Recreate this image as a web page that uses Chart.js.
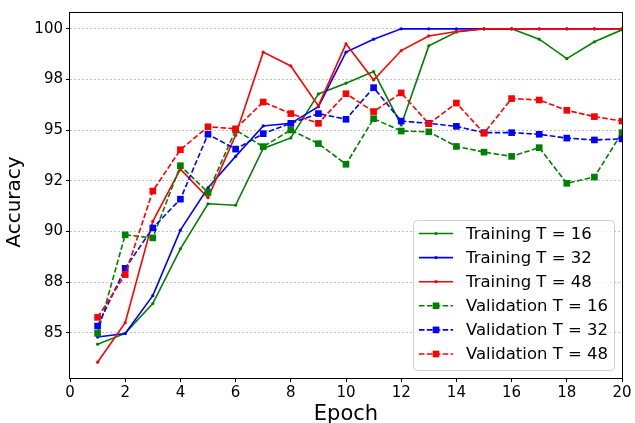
<!DOCTYPE html>
<html><head><meta charset="utf-8">
<script src="https://cdn.jsdelivr.net/npm/chart.js@4"></script>
<style>html,body{margin:0;padding:0;background:#fff}#wrap{width:635px;height:423px}</style>
</head><body><div id="wrap"><canvas id="c" width="635" height="423"></canvas></div>
<script>
const epochs = [1,2,3,4,5,6,7,8,9,10,11,12,13,14,15,16,17,18,19,20];
const trainT16 = [84.45,84.98,86.45,89.15,91.37,91.30,94.10,94.62,96.79,97.32,97.89,95.26,99.16,99.84,100,100,99.49,98.53,99.36,99.95];
const trainT32 = [84.80,84.97,86.84,90.07,92.16,93.71,95.21,95.34,96.16,98.85,99.49,100,100,100,100,100,100,100,100,100];
const trainT48 = [83.56,85.51,90.51,93.08,91.67,94.75,98.85,98.17,96.20,99.26,97.48,98.93,99.65,99.87,100,100,100,100,100,100];
const valT16 = [84.98,89.84,89.69,93.25,91.93,95.01,94.19,95.01,94.34,93.32,95.57,94.96,94.92,94.20,93.92,93.71,94.14,92.38,92.69,94.88];
const valT32 = [85.34,88.19,90.18,91.60,94.80,94.07,94.83,95.34,95.82,95.54,97.10,95.45,95.34,95.19,94.88,94.88,94.80,94.61,94.52,94.57];
const valT48 = [85.77,87.88,92.00,94.04,95.17,95.07,96.39,95.82,95.34,96.80,95.92,96.84,95.32,96.34,94.85,96.56,96.49,95.98,95.67,95.45];
const seriesLabels = ['Training T = 16','Training T = 32','Training T = 48','Validation T = 16','Validation T = 32','Validation T = 48'];
const xTicks = [0,2,4,6,8,10,12,14,16,18,20];
const yTickValues = [85,87.5,90,92.5,95,97.5,100];
const yTickLabels = ['85','88','90','92','95','98','100'];
const xTitle = 'Epoch';
const yTitle = 'Accuracy';

Chart.defaults.font.family = '"DejaVu Sans", sans-serif';
Chart.defaults.color = '#000';

const seriesValues = [trainT16, trainT32, trainT48, valT16, valT32, valT48];
const colors = ['#008000','#0000ff','#ff0000','#008000','#0000ff','#ff0000'];
const datasets = seriesValues.map((vals, i) => {
  const val = i >= 3;
  return {
    label: seriesLabels[i],
    data: epochs.map((e, k) => ({x: e, y: vals[k]})),
    borderColor: colors[i],
    backgroundColor: colors[i],
    borderWidth: 1.6,
    borderDash: val ? [5.5, 2.4] : [],
    pointStyle: val ? 'rect' : 'circle',
    pointRadius: val ? 4.7 : 1.6,
    pointBorderWidth: 0,
    pointHoverRadius: val ? 4.7 : 1.6,
    fill: false,
    tension: 0,
    order: 6 - i
  };
});

function drawMarker(ctx, ds, x, y) {
  ctx.fillStyle = ds.backgroundColor;
  ctx.beginPath();
  if (ds.pointStyle === 'rect') {
    const s = Math.SQRT1_2 * ds.pointRadius;
    ctx.rect(x - s, y - s, 2 * s, 2 * s);
  } else {
    ctx.arc(x, y, ds.pointRadius, 0, Math.PI * 2);
  }
  ctx.fill();
}

const framePlugin = {
  id: 'frameAndLegend',
  afterDraw(chart) {
    const ctx = chart.ctx, ca = chart.chartArea;
    ctx.save();
    ctx.strokeStyle = '#000';
    ctx.lineWidth = 1;
    ctx.strokeRect(Math.round(ca.left) - 0.5, Math.round(ca.top) + 0.5, Math.round(ca.right - ca.left) + 1, Math.round(ca.bottom - ca.top));
    // y axis title
    ctx.save();
    ctx.translate(15, (ca.top + ca.bottom) / 2 + 7);
    ctx.rotate(-Math.PI / 2);
    ctx.font = '20px "DejaVu Sans"';
    ctx.fillStyle = '#000';
    ctx.textAlign = 'center';
    ctx.textBaseline = 'middle';
    ctx.fillText(yTitle, 0, 0);
    ctx.restore();
    // legend
    const w = 201, h = 150;
    const x0 = ca.right - 8 - w, y0 = ca.bottom - 8 - h;
    ctx.beginPath();
    ctx.roundRect(x0 + 0.5, y0 + 0.5, w, h, 4);
    ctx.fillStyle = 'rgba(255,255,255,0.8)';
    ctx.fill();
    ctx.strokeStyle = '#d0d0d0';
    ctx.lineWidth = 1;
    ctx.stroke();
    chart.data.datasets.forEach((ds, i) => {
      const cy = y0 + 13.5 + i * 24.1;
      ctx.strokeStyle = ds.borderColor;
      ctx.lineWidth = ds.borderWidth;
      ctx.setLineDash(ds.borderDash || []);
      ctx.beginPath();
      ctx.moveTo(x0 + 6, cy);
      ctx.lineTo(x0 + 40, cy);
      ctx.stroke();
      ctx.setLineDash([]);
      drawMarker(ctx, ds, x0 + 23, cy);
      ctx.fillStyle = '#000';
      ctx.font = '16.5px "DejaVu Sans"';
      ctx.textBaseline = 'middle';
      ctx.textAlign = 'left';
      ctx.fillText(ds.label, x0 + 53, cy + 1);
    });
    ctx.restore();
  }
};

new Chart(document.getElementById('c'), {
  type: 'line',
  data: { datasets },
  options: {
    responsive: false,
    animation: false,
    devicePixelRatio: 1,
    layout: { padding: { top: 12, right: 13, left: 0, bottom: 0 } },
    plugins: { legend: { display: false }, tooltip: { enabled: false } },
    scales: {
      x: {
        type: 'linear', min: 0, max: 20,
        afterBuildTicks: s => { s.ticks = xTicks.map(v => ({ value: v })); },
        afterFit: s => { s.height = 45; },
        grid: { display: true, drawOnChartArea: false, drawTicks: true, tickLength: 4, tickColor: '#000', tickWidth: 1 },
        border: { display: false },
        ticks: { font: { size: 15 }, color: '#000', padding: 2, maxRotation: 0, autoSkip: false },
        title: { display: true, text: xTitle, color: '#000', font: { size: 21, lineHeight: 1 }, padding: { top: 0, bottom: -2 } }
      },
      y: {
        type: 'linear', min: 82.78, max: 100.83,
        afterBuildTicks: s => { s.ticks = yTickValues.map(v => ({ value: v })); },
        afterFit: s => { s.width = 70; },
        grid: { display: true, drawOnChartArea: true, color: '#b0b0b0', lineWidth: 0.8, drawTicks: true, tickLength: 4, tickColor: '#000', tickWidth: 1, tickBorderDash: [] },
        border: { display: false, dash: [2, 2] },
        ticks: { font: { size: 15 }, color: '#000', padding: 3, autoSkip: false, callback: (v, i) => yTickLabels[i] },
        title: { display: false }
      }
    }
  },
  plugins: [framePlugin]
});
</script>
</body></html>
